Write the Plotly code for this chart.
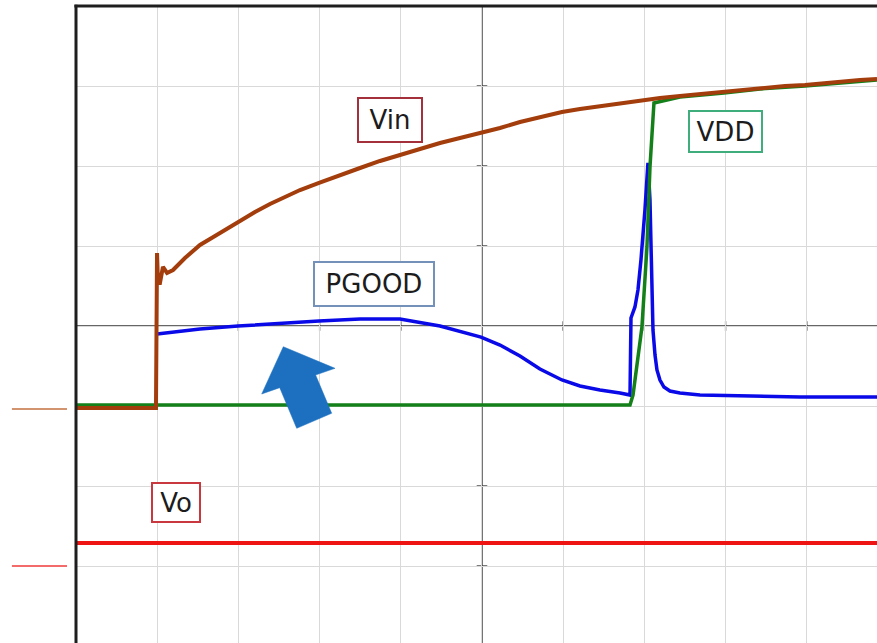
import plotly.graph_objects as go

# Units: oscilloscope divisions (x: 0..10, centre at 5; y: -4..4, centre at 0)
vin_x = [0.0, 0.985, 0.998, 1.010, 1.034, 1.071, 1.121, 1.195, 1.342, 1.527, 1.712, 1.995,
         2.204, 2.389, 2.574, 2.759, 2.993, 3.251, 3.498, 3.744, 3.990, 4.236, 4.483,
         4.729, 4.988, 5.222, 5.468, 5.714, 5.985, 6.207, 6.453, 6.700, 6.983, 7.192,
         7.438, 7.685, 7.980, 8.239, 8.424, 8.732, 8.978, 9.224, 9.409, 9.655, 9.865]
vin_y = [-1.025, -1.025, 0.913, 0.538, 0.538, 0.738, 0.663, 0.700, 0.850, 1.013, 1.125, 1.300,
         1.425, 1.525, 1.613, 1.700, 1.788, 1.888, 1.975, 2.063, 2.138, 2.213, 2.288,
         2.350, 2.413, 2.475, 2.550, 2.613, 2.675, 2.713, 2.750, 2.788, 2.825, 2.850,
         2.875, 2.900, 2.925, 2.950, 2.975, 3.000, 3.013, 3.038, 3.050, 3.075, 3.088]

vdd_x = [0.0, 6.823, 6.860, 6.970, 7.032, 7.069, 7.118, 7.438, 7.980, 8.424, 8.978, 9.409, 9.865]
vdd_y = [-0.988, -0.988, -0.863, -0.013, 0.988, 1.988, 2.788, 2.863, 2.913, 2.963, 3.000, 3.038, 3.075]

pgood_x = [0.998, 1.527, 1.995, 2.512, 2.993, 3.498, 3.990, 4.483, 4.729, 4.988, 5.222,
           5.468, 5.714, 5.985, 6.207, 6.453, 6.700, 6.823, 6.835, 6.884, 6.921, 6.958,
           7.007, 7.044, 7.069, 7.081, 7.094, 7.106, 7.131, 7.155, 7.192, 7.241, 7.315,
           7.438, 7.685, 8.300, 8.916, 9.865]
pgood_y = [-0.100, -0.038, 0.000, 0.038, 0.063, 0.088, 0.088, 0.000, -0.063, -0.138, -0.238,
           -0.375, -0.538, -0.675, -0.750, -0.800, -0.838, -0.863, 0.100, 0.238, 0.450, 0.825,
           1.450, 2.038, 1.575, 0.950, 0.325, -0.050, -0.363, -0.550, -0.675, -0.763, -0.813,
           -0.838, -0.863, -0.875, -0.888, -0.888]

vo_x = [0.0, 2.5, 5.0, 7.5, 9.865]
vo_y = [-2.713, -2.713, -2.713, -2.713, -2.713]

# Label boxes: (text, x, y, border colour, box width, box height)
labels = [
    ("Vin", 3.867, 2.575, "#a3303a", 62, 42),
    ("PGOOD", 3.670, 0.525, "#7391b9", 118, 42),
    ("VDD", 7.999, 2.431, "#3fae7c", 71, 39),
    ("Vo", 1.232, -2.200, "#c8383e", 46, 37),
]

# Block arrow outline (divisions)
arrow_x = [2.553, 3.190, 2.951, 3.149, 2.718, 2.509, 2.287]
arrow_y = [-0.259, -0.529, -0.6125, -1.091, -1.279, -0.771, -0.850]

# Channel ground markers (left of the screen)
ground_levels = [(-1.0375, "#c2703e"), (-3.000, "#f03a3a")]

X_MAX = 9.865
Y_MIN, Y_MAX = -3.9625, 4.0

fig = go.Figure()
fig.add_trace(go.Scatter(x=vo_x, y=vo_y, mode="lines", line=dict(color="#ee1414", width=4)))
fig.add_trace(go.Scatter(x=pgood_x, y=pgood_y, mode="lines", line=dict(color="#0a0ae8", width=3.5)))
fig.add_trace(go.Scatter(x=vdd_x, y=vdd_y, mode="lines", line=dict(color="#14801a", width=3.5)))
fig.add_trace(go.Scatter(x=vin_x, y=vin_y, mode="lines", line=dict(color="#a33d0c", width=4)))

shapes = []
# centre cross
center_col = "#333333"
shapes.append(dict(type="line", xref="x", yref="paper", x0=5, x1=5, y0=0, y1=1,
                   line=dict(color=center_col, width=1.4), layer="below"))
shapes.append(dict(type="line", xref="paper", yref="y", x0=0, x1=1, y0=0, y1=0,
                   line=dict(color=center_col, width=1.4), layer="below"))
for gy in [-3, -2, -1, 1, 2, 3]:
    shapes.append(dict(type="line", xref="x", yref="y", x0=5 - 0.065, x1=5 + 0.065, y0=gy, y1=gy,
                       line=dict(color=center_col, width=1.3), layer="below"))
for gx in [1, 2, 3, 4, 6, 7, 8, 9]:
    shapes.append(dict(type="line", xref="x", yref="y", x0=gx, x1=gx, y0=-0.06, y1=0.06,
                       line=dict(color=center_col, width=1.3), layer="below"))
# left and top frame
shapes.append(dict(type="line", xref="paper", yref="paper", x0=0, x1=0, y0=0, y1=1.002,
                   line=dict(color="#1e1e1e", width=3)))
shapes.append(dict(type="line", xref="paper", yref="paper", x0=-0.002, x1=1, y0=1, y1=1,
                   line=dict(color="#1e1e1e", width=3)))
# ground markers
for gy, col in ground_levels:
    shapes.append(dict(type="line", xref="paper", yref="y", x0=-0.080, x1=-0.0112, y0=gy, y1=gy,
                       line=dict(color=col, width=1.5)))
# arrow
path = "M " + " L ".join(f"{x},{y}" for x, y in zip(arrow_x, arrow_y)) + " Z"
shapes.append(dict(type="path", xref="x", yref="y", path=path,
                   fillcolor="#1d70c0", line=dict(color="#1d70c0", width=0.5)))

annotations = []
for text, x, y, col, w, h in labels:
    annotations.append(dict(x=x, y=y, xref="x", yref="y", text=text, showarrow=False,
                            font=dict(family="DejaVu Sans", size=26, color="#1c1c1c"),
                            bgcolor="white", bordercolor=col, borderwidth=2, borderpad=0,
                            width=w, height=h, align="center", valign="middle"))

fig.update_layout(
    width=877, height=643,
    margin=dict(l=76, r=0, t=6, b=0),
    paper_bgcolor="white", plot_bgcolor="white",
    showlegend=False, hovermode=False,
    shapes=shapes, annotations=annotations,
    xaxis=dict(range=[0, X_MAX], dtick=1, tick0=0, showgrid=True, gridcolor="#d9d9d9", gridwidth=1,
               zeroline=False, showticklabels=False, ticks="", showline=False, fixedrange=True),
    yaxis=dict(range=[Y_MIN, Y_MAX], dtick=1, tick0=0, showgrid=True, gridcolor="#d9d9d9", gridwidth=1,
               zeroline=False, showticklabels=False, ticks="", showline=False, fixedrange=True),
)

fig.write_html("out.html", config={"displayModeBar": False},
               post_script="document.body.style.margin='0';document.body.style.overflow='hidden';")
